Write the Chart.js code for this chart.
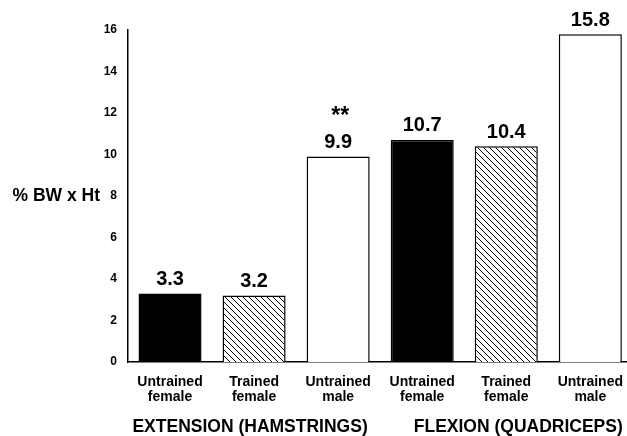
<!DOCTYPE html>
<html lang="en">
<head>
  <meta charset="UTF-8">
  <title>% BW x Ht</title>
  <script src="https://cdn.jsdelivr.net/npm/chart.js"></script>
  <style>
    body {
      margin: 0;
      background: #fff;
      overflow: hidden;
    }
    /* a little wider than the window: the last bar sits right at the edge */
    .wrap {
      width: 635px;
      height: 436px;
      position: relative;
    }
  </style>
</head>
<body>
  <div class="wrap">
    <canvas id="chart"></canvas>
  </div>
  <script>
    const categories = [
      ['Untrained', 'female'], ['Trained', 'female'], ['Untrained', 'male'],
      ['Untrained', 'female'], ['Trained', 'female'], ['Untrained', 'male']
    ];
    const values = [3.3, 3.2, 9.9, 10.7, 10.4, 15.8];
    const marks = ['', '', '**', '', '', ''];
    const groups = ['EXTENSION (HAMSTRINGS)', 'FLEXION (QUADRICEPS)'];
    const yTitle = '% BW x Ht';
    const yMin = 0, yMax = 16, yStep = 2;

    const FONT = '"Liberation Sans", Arial, Helvetica, sans-serif';
    const ctx = document.getElementById('chart').getContext('2d');

    function hatch() {
      const c = document.createElement('canvas');
      c.width = 6; c.height = 6;
      const g = c.getContext('2d');
      g.fillStyle = '#fff';
      g.fillRect(0, 0, 6, 6);
      g.strokeStyle = '#000';
      g.lineWidth = 1;
      g.beginPath();
      g.moveTo(-1, -1); g.lineTo(7, 7);
      g.moveTo(-1, 5); g.lineTo(1, 7);
      g.moveTo(5, -1); g.lineTo(7, 1);
      g.stroke();
      return ctx.createPattern(c, 'repeat');
    }

    // solid, hatched, open - repeated for both groups
    const look = ['#000', hatch(), '#fff'];
    const fills = values.map((v, i) => look[i % 3]);

    const labelsPlugin = {
      id: 'labels',
      afterDatasetsDraw(chart) {
        const c = chart.ctx;
        const bars = chart.getDatasetMeta(0).data;
        c.save();
        c.fillStyle = '#000';
        c.textAlign = 'center';
        c.textBaseline = 'middle';
        bars.forEach((b, i) => {
          c.font = 'bold 20px ' + FONT;
          c.fillText(String(values[i]), b.x, b.y - 14);
          if (marks[i]) {
            c.font = 'bold 23px ' + FONT;
            c.fillText(marks[i], b.x + 2, b.y - 40);
          }
        });
        // group names under the category labels
        c.font = 'bold 17.5px ' + FONT;
        c.fillText(groups[0], bars[1].x - 4, 427);
        c.fillText(groups[1], bars[4].x + 12, 427);
        // y title sitting left of the "8" tick
        const y = chart.scales.y;
        c.textAlign = 'right';
        c.font = 'bold 17.5px ' + FONT;
        c.fillText(yTitle, 100, y.getPixelForValue(8));
        c.restore();
      }
    };

    new Chart(ctx, {
      type: 'bar',
      data: {
        labels: categories,
        datasets: [{
          data: values,
          backgroundColor: fills,
          borderColor: '#000',
          borderWidth: 1.5,
          barPercentage: 0.75,
          categoryPercentage: 1
        }]
      },
      options: {
        responsive: true,
        maintainAspectRatio: false,
        animation: false,
        layout: { padding: { top: 30, right: 0, bottom: 32, left: 0 } },
        plugins: {
          legend: { display: false },
          tooltip: { enabled: false }
        },
        scales: {
          x: {
            grid: { display: false, drawTicks: false },
            border: { display: true, color: '#000', width: 1.5 },
            ticks: {
              color: '#000',
              padding: 12,
              maxRotation: 0,
              autoSkip: false,
              font: { family: FONT, size: 14, weight: 'bold', lineHeight: 1.1 }
            },
            afterFit(s) { s.height = 42; }
          },
          y: {
            min: yMin,
            max: yMax,
            grid: { display: false, drawTicks: false },
            border: { display: true, color: '#000', width: 1.5 },
            ticks: {
              stepSize: yStep,
              color: '#000',
              padding: 11,
              font: { family: FONT, size: 12, weight: 'bold' }
            },
            afterFit(s) { s.width = 128; }
          }
        }
      },
      plugins: [labelsPlugin]
    });
  </script>
</body>
</html>
